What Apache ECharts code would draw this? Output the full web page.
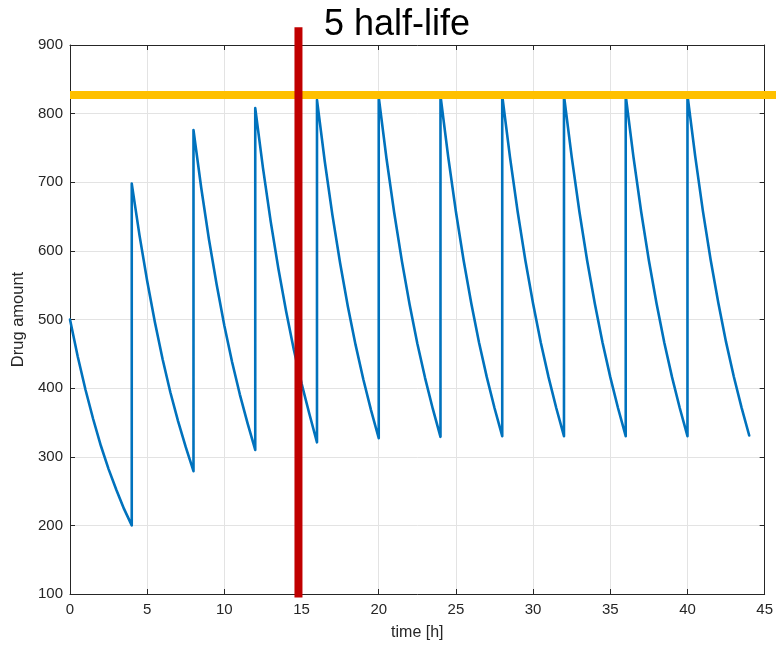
<!DOCTYPE html>
<html>
<head>
<meta charset="utf-8">
<script src="https://cdn.jsdelivr.net/npm/echarts@6/dist/echarts.min.js"></script>
<style>html,body{margin:0;padding:0;background:#fff}#c{width:776px;height:647px}</style>
</head>
<body>
<div id="c"></div>
<script>
// ---- data ----
var doseTimes = [0, 4, 8, 12, 16, 20, 24, 28, 32, 36, 40];
var sampleOffsets = [0, 0.5, 1, 1.5, 2, 2.5, 3, 3.5, 4];
// drug amount sampled every 0.5 h within each 4 h dosing interval
var seg1 = [500, 446, 398, 355, 316, 282, 252, 224, 200];
var seg2 = [698, 623, 556, 496, 442, 394, 352, 314, 279];
var seg3 = [776, 692, 617, 551, 491, 438, 391, 349, 310];
var seg4 = [808, 721, 643, 574, 512, 456, 407, 363, 321];
var seg5 = [820, 731, 652, 582, 519, 463, 413, 368, 327];
var seg6 = [824, 735, 656, 585, 522, 465, 415, 370, 329];
var seg7 = [826, 737, 657, 586, 523, 466, 416, 371, 330];
var seg8 = [826, 737, 657, 586, 523, 466, 416, 371, 330];
var seg9 = [826, 737, 657, 586, 523, 466, 416, 371, 330];
var seg10 = [826, 737, 657, 586, 523, 466, 416, 371, 330];
var seg11 = [827, 738, 658, 587, 524, 467, 417, 372, 331];
var segments = [seg1, seg2, seg3, seg4, seg5, seg6, seg7, seg8, seg9, seg10, seg11];

var steadyLevel = 827;          // yellow horizontal line
var steadyLineX = [0, 46];
var halfLifeTime = 14.8;        // red vertical line
var halfLifeLineY = [95, 926];

var xTicks = [0, 5, 10, 15, 20, 25, 30, 35, 40, 45];
var yTicks = [100, 200, 300, 400, 500, 600, 700, 800, 900];

var titleText = '5 half-life';
var xLabel = 'time [h]';
var yLabel = 'Drug amount';

// ---- build series data ----
var drugData = [];
for (var i = 0; i < segments.length; i++) {
  for (var j = 0; j < sampleOffsets.length; j++) {
    drugData.push([doseTimes[i] + sampleOffsets[j], segments[i][j]]);
  }
}

var FONT = '"Liberation Sans", Arial, Helvetica, sans-serif';
var AX = '#262626';

var chart = echarts.init(document.getElementById('c'), null, {renderer: 'canvas'});
var baseX = {
  type: 'value', min: xTicks[0], max: xTicks[xTicks.length - 1], interval: 5,
  axisLine: {show: true, onZero: false, lineStyle: {color: AX, width: 1}},
  axisTick: {show: true, inside: true, length: 5, lineStyle: {color: AX}},
  splitLine: {show: false}
};
var baseY = {
  type: 'value', min: yTicks[0], max: yTicks[yTicks.length - 1], interval: 100,
  axisLine: {show: true, onZero: false, lineStyle: {color: AX, width: 1}},
  axisTick: {show: true, inside: true, length: 5, lineStyle: {color: AX}},
  splitLine: {show: false}
};
chart.setOption({
  animation: false,
  backgroundColor: '#ffffff',
  title: {
    text: titleText, left: 392, top: 2, textAlign: 'center',
    textStyle: {fontFamily: FONT, fontSize: 36, fontWeight: 'normal', color: '#000'}
  },
  grid: [
    {left: 70, top: 45, right: 10, bottom: 53, containLabel: false},
    // wider overlay grid (to the canvas edge) for the steady-state line
    {left: 70, top: 45, right: 0, bottom: 53, containLabel: false}
  ],
  xAxis: [
    Object.assign({}, baseX, {
      gridIndex: 0, position: 'bottom',
      name: xLabel, nameLocation: 'middle', nameGap: 31,
      nameTextStyle: {fontFamily: FONT, fontSize: 16, color: AX},
      axisLabel: {show: true, margin: 8, fontFamily: FONT, fontSize: 15, color: AX},
      splitLine: {show: true, lineStyle: {color: '#e3e3e3', width: 1}}
    }),
    Object.assign({}, baseX, {gridIndex: 0, position: 'top', axisLabel: {show: false}}),
    {type: 'value', gridIndex: 1, min: steadyLineX[0], max: steadyLineX[1], show: false}
  ],
  yAxis: [
    Object.assign({}, baseY, {
      gridIndex: 0, position: 'left',
      name: yLabel, nameLocation: 'middle', nameGap: 42, nameRotate: 90,
      nameTextStyle: {fontFamily: FONT, fontSize: 16.5, color: AX},
      axisLabel: {show: true, margin: 7, fontFamily: FONT, fontSize: 15, color: AX},
      splitLine: {show: true, lineStyle: {color: '#e3e3e3', width: 1}}
    }),
    Object.assign({}, baseY, {gridIndex: 0, position: 'right', axisLabel: {show: false}}),
    {type: 'value', gridIndex: 1, min: yTicks[0], max: yTicks[yTicks.length - 1], show: false}
  ],
  series: [
    {
      type: 'line', name: 'drug', data: drugData, xAxisIndex: 0, yAxisIndex: 0,
      showSymbol: false, symbol: 'none', z: 3,
      lineStyle: {color: '#0072BD', width: 2.6, join: 'round', cap: 'round'}
    },
    {
      type: 'line', name: 'steady', clip: false, xAxisIndex: 2, yAxisIndex: 2,
      data: [[steadyLineX[0], steadyLevel], [steadyLineX[1], steadyLevel]],
      showSymbol: false, symbol: 'none', z: 4,
      lineStyle: {color: '#FFC000', width: 8}
    },
    {
      type: 'line', name: 'halflife', clip: false, xAxisIndex: 0, yAxisIndex: 0,
      data: [[halfLifeTime, halfLifeLineY[0]], [halfLifeTime, halfLifeLineY[1]]],
      showSymbol: false, symbol: 'none', z: 5,
      lineStyle: {color: '#C00000', width: 8}
    }
  ]
});
</script>
</body>
</html>
